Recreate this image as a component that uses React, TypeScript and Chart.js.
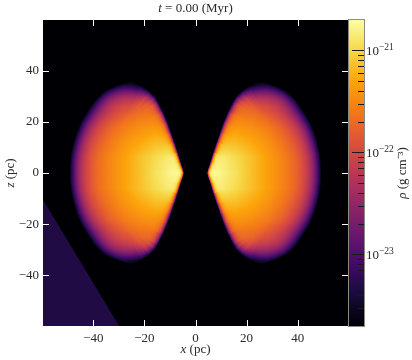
import React, { useEffect, useRef } from "react";
import { Chart, registerables } from "chart.js";

Chart.register(...registerables);

const xTicks = [-40, -20, 0, 20, 40];
const zTicks = [-40, -20, 0, 20, 40];
const cbDecades = [-21, -22, -23];
const logRhoMin = -23.7;
const logRhoMax = -20.705;

// Lobe outline: |z| rows and the inner and outer |x| edge on each row
const zRows = [0, 1, 2, 4, 8, 12, 16, 20, 24, 28, 30, 32, 33, 34, 35, 35.6, 36];
const innerEdge = [4.5, 4.7, 5.0, 5.7, 6.9, 8.2, 9.6, 11.0, 12.7, 14.7, 15.9, 18.0, 19.3, 20.9, 23.0, 24.2, 24.8];
const outerEdge = [49.3, 49.3, 49.3, 49.2, 48.7, 47.8, 46.6, 44.9, 42.5, 39.8, 38.0, 35.7, 33.8, 31.5, 28.7, 26.8, 24.8];
// Fall-off length (pc) of the density just inside the inner edge, per row
const innerSoft = [0.45, 0.45, 0.5, 0.55, 0.7, 0.8, 0.9, 1.0, 1.2, 1.5, 1.9, 2.4, 2.8, 3.2, 3.2, 3.2, 3.2];
const outerSoft = 3.2;

// Interior log10(rho), on a |x| by |z| grid
const gridX = [4, 10, 16, 22, 28, 34, 40, 46, 50];
const gridZ = [0, 6, 12, 18, 24, 30, 36];
const rhoZ00 = [-20.7, -20.79, -20.94, -21.15, -21.33, -21.51, -21.69, -21.9, -22.05];
const rhoZ06 = [-20.82, -20.85, -20.98, -21.15, -21.33, -21.51, -21.69, -21.9, -22.05];
const rhoZ12 = [-21.15, -21.15, -21.18, -21.29, -21.42, -21.6, -21.78, -21.99, -22.13];
const rhoZ18 = [-21.4, -21.4, -21.4, -21.45, -21.56, -21.72, -21.93, -22.16, -22.31];
const rhoZ24 = [-21.6, -21.6, -21.6, -21.66, -21.78, -21.96, -22.17, -22.4, -22.55];
const rhoZ30 = [-21.7, -21.7, -21.7, -21.76, -21.88, -22.06, -22.3, -22.5, -22.65];
const rhoZ36 = [-21.9, -21.9, -21.87, -21.9, -22.0, -22.2, -22.4, -22.6, -22.7];
const rhoGrid = [rhoZ00, rhoZ06, rhoZ12, rhoZ18, rhoZ24, rhoZ30, rhoZ36];

// Uniform ambient wedge in the lower-left corner
const wedgeX = [-59.7, -29.9];
const wedgeZ = [-10.5, -59.8];
const wedgeLogRho = -23.33;

const inferno = [
  [0, 0, 4], [22, 11, 57], [66, 10, 104], [106, 23, 110], [147, 38, 103], [188, 55, 84],
  [221, 81, 58], [243, 120, 25], [252, 165, 10], [246, 215, 70], [252, 255, 164],
];

function cmap(logRho: number) {
  const t = Math.min(1, Math.max(0, (logRho - logRhoMin) / (logRhoMax - logRhoMin))) * 10;
  const i = Math.min(9, Math.floor(t));
  const f = t - i;
  return inferno[i].map((c, k) => c + (inferno[i + 1][k] - c) * f);
}

function segIndex(xs: number[], x: number) {
  let i = 0;
  while (i < xs.length - 2 && x > xs[i + 1]) i++;
  return i;
}

function coreAt(ax: number, az: number) {
  const i = segIndex(gridX, ax);
  const j = segIndex(gridZ, az);
  const fx = Math.min(1, Math.max(0, (ax - gridX[i]) / (gridX[i + 1] - gridX[i])));
  const fz = Math.min(1, Math.max(0, (az - gridZ[j]) / (gridZ[j + 1] - gridZ[j])));
  const a = rhoGrid[j][i] + (rhoGrid[j][i + 1] - rhoGrid[j][i]) * fx;
  const b = rhoGrid[j + 1][i] + (rhoGrid[j + 1][i + 1] - rhoGrid[j + 1][i]) * fx;
  return a + (b - a) * fz;
}

// nearest distance to an edge polyline; also returns the row of the nearest segment
function edgeDist(edge: number[], ax: number, az: number) {
  let best = Infinity;
  let row = 0;
  for (let k = 0; k < zRows.length - 1; k++) {
    const x0 = edge[k];
    const z0 = zRows[k];
    const dx = edge[k + 1] - x0;
    const dz = zRows[k + 1] - z0;
    const s = Math.min(1, Math.max(0, ((ax - x0) * dx + (az - z0) * dz) / (dx * dx + dz * dz)));
    const ex = x0 + s * dx - ax;
    const ez = z0 + s * dz - az;
    const d = ex * ex + ez * ez;
    if (d < best) {
      best = d;
      row = k;
    }
  }
  return [Math.sqrt(best), row];
}

function fieldAt(x: number, z: number) {
  const ax = Math.abs(x);
  const az = Math.abs(z);
  if (az >= zRows[zRows.length - 1]) return null;
  const r = segIndex(zRows, az);
  const f = (az - zRows[r]) / (zRows[r + 1] - zRows[r]);
  const inner = innerEdge[r] + (innerEdge[r + 1] - innerEdge[r]) * f;
  const outer = outerEdge[r] + (outerEdge[r + 1] - outerEdge[r]) * f;
  if (ax <= inner || ax >= outer) return null;
  const [dIn, rowIn] = edgeDist(innerEdge, ax, az);
  const [dOut] = edgeDist(outerEdge, ax, az);
  const ramp = (1 - Math.exp(-dIn / innerSoft[rowIn])) * (1 - Math.exp(-dOut / outerSoft));
  return logRhoMin + (coreAt(ax, az) - logRhoMin) * ramp;
}

const FONT = '"Liberation Serif", serif';
const INK = "#2a2a2a";

function rich(ctx: CanvasRenderingContext2D, parts: [string, boolean][], size: number) {
  const w = parts.reduce((s, [t, it]) => {
    ctx.font = `${it ? "italic " : ""}${size}px ${FONT}`;
    return s + ctx.measureText(t).width;
  }, 0);
  let x = -w / 2;
  ctx.textAlign = "left";
  ctx.textBaseline = "middle";
  ctx.fillStyle = INK;
  for (const [t, it] of parts) {
    ctx.font = `${it ? "italic " : ""}${size}px ${FONT}`;
    ctx.fillText(t, x, 0);
    x += ctx.measureText(t).width;
  }
}

const heatPlugin = {
  id: "heat",
  beforeDatasetsDraw(chart: any) {
    const { ctx, chartArea: a, scales } = chart;
    const w = Math.round(a.right - a.left);
    const h = Math.round(a.bottom - a.top);
    const img = ctx.createImageData(w, h);
    for (let j = 0; j < h; j++) {
      const z = scales.y.getValueForPixel(a.top + j + 0.5);
      for (let i = 0; i < w; i++) {
        const x = scales.x.getValueForPixel(a.left + i + 0.5);
        const v = fieldAt(x, z);
        const c = cmap(v === null ? logRhoMin : v);
        const o = (j * w + i) * 4;
        img.data[o] = c[0];
        img.data[o + 1] = c[1];
        img.data[o + 2] = c[2];
        img.data[o + 3] = 255;
      }
    }
    ctx.putImageData(img, Math.round(a.left), Math.round(a.top));
  },
  afterDatasetsDraw(chart: any) {
    const { ctx, chartArea: a, scales } = chart;
    ctx.save();
    ctx.strokeStyle = "#ffffff";
    ctx.lineWidth = 1;
    ctx.beginPath();
    const len = 6;
    for (const v of xTicks) {
      const p = Math.round(scales.x.getPixelForValue(v)) + 0.5;
      ctx.moveTo(p, a.top);
      ctx.lineTo(p, a.top + len);
      ctx.moveTo(p, a.bottom);
      ctx.lineTo(p, a.bottom - len);
    }
    for (const v of zTicks) {
      const p = Math.round(scales.y.getPixelForValue(v)) + 0.5;
      ctx.moveTo(a.left, p);
      ctx.lineTo(a.left + len, p);
      ctx.moveTo(a.right, p);
      ctx.lineTo(a.right - len, p);
    }
    ctx.stroke();

    // colour bar, positioned from the log scale
    const cb = scales.cb;
    const bx0 = 349;
    const bx1 = 364;
    for (let y = Math.round(a.top); y < Math.round(a.bottom); y++) {
      const val = Math.log10(cb.getValueForPixel(y + 0.5));
      const c = cmap(val);
      ctx.fillStyle = `rgb(${c[0]},${c[1]},${c[2]})`;
      ctx.fillRect(bx0, y, bx1 - bx0, 1);
    }
    ctx.strokeStyle = "#1a1a1a";
    ctx.lineWidth = 1;
    ctx.beginPath();
    for (const d of cbDecades) {
      const p = Math.round(cb.getPixelForValue(Math.pow(10, d))) + 0.5;
      ctx.moveTo(bx1, p);
      ctx.lineTo(352, p);
      for (let m = 2; m <= 9; m++) {
        const val = m * Math.pow(10, d);
        if (val > Math.pow(10, logRhoMax)) continue;
        const q = Math.round(cb.getPixelForValue(val)) + 0.5;
        ctx.moveTo(bx1, q);
        ctx.lineTo(358, q);
      }
    }
    for (let m = 3; m <= 9; m++) {
      const val = m * 1e-24;
      if (val < Math.pow(10, logRhoMin)) continue;
      const q = Math.round(cb.getPixelForValue(val)) + 0.5;
      ctx.moveTo(bx1, q);
      ctx.lineTo(358, q);
    }
    ctx.stroke();
    ctx.strokeStyle = "#8a8a80";
    ctx.strokeRect(348.5, a.top + 0.5 - 1, bx1 - 348.5 + 0.5, a.bottom - a.top + 1);

    ctx.fillStyle = INK;
    ctx.textAlign = "left";
    ctx.textBaseline = "middle";
    for (const d of cbDecades) {
      const p = cb.getPixelForValue(Math.pow(10, d));
      ctx.font = `13px ${FONT}`;
      ctx.fillText("10", 366, p + 1);
      const tw = ctx.measureText("10").width;
      ctx.font = `9.5px ${FONT}`;
      ctx.fillText("\u2212" + Math.abs(d), 366 + tw, p - 3);
    }

    // titles
    ctx.save();
    ctx.translate(195.5, 9);
    rich(ctx, [["t", true], [" = 0.00 (Myr)", false]], 13);
    ctx.restore();
    ctx.save();
    ctx.translate(195.5, 350);
    rich(ctx, [["x", true], [" (pc)", false]], 13);
    ctx.restore();
    ctx.save();
    ctx.translate(11, 173);
    ctx.rotate(-Math.PI / 2);
    rich(ctx, [["z", true], [" (pc)", false]], 13);
    ctx.restore();
    ctx.save();
    ctx.translate(403, 173);
    ctx.rotate(-Math.PI / 2);
    rich(ctx, [["\u03C1", true], [" (g cm\u207B\u00B3)", false]], 13);
    ctx.restore();
    ctx.restore();
  },
};

const minus = (v: number) => (v < 0 ? "\u2212" + Math.abs(v) : String(v));

export default function App() {
  const ref = useRef<HTMLCanvasElement>(null);
  useEffect(() => {
    document.body.style.margin = "0";
    const chart = new Chart(ref.current as HTMLCanvasElement, {
      type: "scatter",
      data: {
        datasets: [
          {
            label: "ambient",
            data: wedgeX.map((x, i) => ({ x, y: wedgeZ[i] })),
            showLine: true,
            pointRadius: 0,
            borderWidth: 0,
            fill: "start",
            backgroundColor: `rgb(${cmap(wedgeLogRho).map(Math.round).join(",")})`,
          },
        ],
      },
      plugins: [heatPlugin],
      options: {
        animation: false,
        responsive: false,
        devicePixelRatio: 1,
        layout: { padding: { top: 20, right: 64, left: 0, bottom: 0 } },
        plugins: { legend: { display: false }, tooltip: { enabled: false } },
        scales: {
          x: {
            type: "linear",
            min: -59.7,
            max: 59.7,
            grid: { display: false, drawTicks: false },
            border: { display: false },
            afterBuildTicks: (s: any) => {
              s.ticks = xTicks.map((value) => ({ value }));
            },
            afterFit: (s: any) => {
              s.height = 34;
            },
            ticks: {
              maxRotation: 0,
              autoSkip: false,
              padding: 5,
              color: INK,
              font: { family: FONT, size: 13 },
              callback: (v: any) => minus(Number(v)),
            },
          },
          y: {
            type: "linear",
            min: -59.8,
            max: 59.8,
            grid: { display: false, drawTicks: false },
            border: { display: false },
            afterBuildTicks: (s: any) => {
              s.ticks = zTicks.map((value) => ({ value }));
            },
            afterFit: (s: any) => {
              s.width = 43;
            },
            ticks: {
              autoSkip: false,
              padding: 4,
              color: INK,
              font: { family: FONT, size: 13 },
              callback: (v: any) => minus(Number(v)),
            },
          },
          cb: {
            type: "logarithmic",
            position: "right",
            display: false,
            min: Math.pow(10, logRhoMin),
            max: Math.pow(10, logRhoMax),
          },
        },
      },
    } as any);
    return () => chart.destroy();
  }, []);
  return <canvas ref={ref} width={412} height={360} style={{ display: "block", width: 412, height: 360 }} />;
}
